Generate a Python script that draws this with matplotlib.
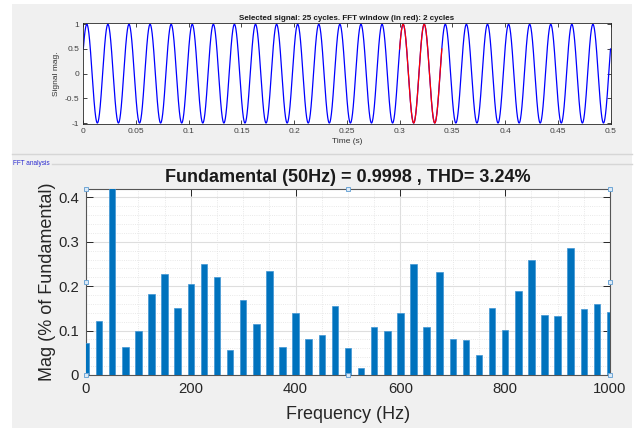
import numpy as np
import matplotlib
matplotlib.use("Agg")
import matplotlib.pyplot as plt
from matplotlib.lines import Line2D
from matplotlib.patches import Rectangle

plt.rcParams['font.family'] = ['Liberation Sans', 'DejaVu Sans']

# --- selected signal (top panel) ---
signal_freq = 50.0        # Hz
signal_amp = 1.0
signal_phase_deg = 30.0
signal_t_end = 0.5        # s (25 cycles)
fft_win_start = 0.30      # s
fft_win_end = 0.34        # s (2 cycles)
time_ticks = [0, 0.05, 0.1, 0.15, 0.2, 0.25, 0.3, 0.35, 0.4, 0.45, 0.5]
time_tick_labels = ['0', '0.05', '0.1', '0.15', '0.2', '0.25', '0.3', '0.35', '0.4', '0.45', '0.5']
mag_ticks = [-1, -0.5, 0, 0.5, 1]
mag_tick_labels = ['-1', '-0.5', '0', '0.5', '1']

# --- FFT spectrum (bottom panel) ---
freqs = [0, 25, 50, 75, 100, 125, 150, 175, 200, 225, 250, 275, 300, 325, 350,
         375, 400, 425, 450, 475, 500, 525, 550, 575, 600, 625, 650, 675, 700,
         725, 750, 775, 800, 825, 850, 875, 900, 925, 950, 975, 1000]
mags = [0.073, 0.121, 100.0, 0.062, 0.098, 0.183, 0.228, 0.151, 0.206, 0.249,
        0.220, 0.056, 0.170, 0.115, 0.235, 0.064, 0.139, 0.081, 0.089, 0.156,
        0.060, 0.015, 0.108, 0.100, 0.140, 0.250, 0.108, 0.233, 0.080, 0.079,
        0.046, 0.151, 0.101, 0.189, 0.259, 0.135, 0.133, 0.287, 0.148, 0.161,
        0.141]
freq_ticks = [0, 200, 400, 600, 800, 1000]
pct_ticks = [0, 0.1, 0.2, 0.3, 0.4]
pct_tick_labels = ['0', '0.1', '0.2', '0.3', '0.4']

W, H = 636, 428
fig = plt.figure(figsize=(W / 100, H / 100), dpi=100)
fig.patch.set_facecolor('white')

def fx(px):
    return px / W

def fy(py):
    return 1 - py / H

# gray panel background
fig.patches.append(Rectangle((fx(12), 0), fx(620), fy(4), transform=fig.transFigure,
                             facecolor='#f0f0f0', edgecolor='none', zorder=-10))
fig.lines.append(Line2D([fx(12), fx(632)], [fy(153.5), fy(153.5)], transform=fig.transFigure,
                        color='#d6d6d6', lw=1))
fig.lines.append(Line2D([fx(52), fx(632)], [fy(163.5), fy(163.5)], transform=fig.transFigure,
                        color='#d6d6d6', lw=1))
fig.text(fx(13), fy(163.5), 'FFT analysis', fontsize=4.7, color='#2a2ad0', va='center', ha='left')

# ---------------- top: time signal ----------------
ax1 = fig.add_axes([fx(83.3), fy(124), fx(610.5 - 83.3), fy(23.3) - fy(124)])
t = np.linspace(0, signal_t_end, 5001)
sig = signal_amp * np.sin(2 * np.pi * signal_freq * t + np.deg2rad(signal_phase_deg))
ax1.plot(t, sig, color='#0000ff', lw=0.9)
win = (t >= fft_win_start) & (t <= fft_win_end)
ax1.plot(t[win], sig[win], color='#ff0000', lw=0.9)
ax1.set_xlim(0, signal_t_end)
ax1.set_ylim(-1.02, 1.02)
ax1.set_xticks(time_ticks)
ax1.set_xticklabels(time_tick_labels)
ax1.set_yticks(mag_ticks)
ax1.set_yticklabels(mag_tick_labels)
ax1.tick_params(direction='in', length=3, width=0.6, labelsize=6, colors='#262626',
                labelcolor='#404040', top=True, right=True, pad=3)
for s in ax1.spines.values():
    s.set_color('#262626')
    s.set_linewidth(0.6)
ax1.set_title('Selected signal: 25 cycles. FFT window (in red): 2 cycles',
              fontsize=5.8, fontweight='bold', pad=2.5, color='#1a1a1a')
ax1.set_xlabel('Time (s)', fontsize=6, color='#333333', labelpad=2)
ax1.set_ylabel('Signal mag.', fontsize=6, color='#333333', labelpad=3)

# ---------------- bottom: FFT spectrum ----------------
ax2 = fig.add_axes([fx(86), fy(375), fx(610 - 86), fy(189) - fy(375)])
ax2.bar(freqs, mags, width=12.5, color='#0072bd', edgecolor='#3f95d4', linewidth=0.5, zorder=3)
ax2.set_xlim(0, 1000)
ax2.set_ylim(0, 0.419)
ax2.set_xticks(freq_ticks)
ax2.set_yticks(pct_ticks)
ax2.set_yticklabels(pct_tick_labels)
ax2.set_xticks(np.arange(0, 1001, 50), minor=True)
ax2.set_yticks(np.arange(0, 0.42, 0.02), minor=True)
ax2.grid(True, which='major', color='#dedede', lw=0.8, zorder=0)
ax2.grid(True, which='minor', color='#e2e2e2', lw=0.6, ls=':', zorder=0)
ax2.set_axisbelow(True)
ax2.tick_params(which='major', direction='in', length=5, width=0.7, labelsize=10.7,
                colors='#262626', labelcolor='#262626', top=True, right=True, pad=5)
ax2.tick_params(which='minor', length=0)
for s in ax2.spines.values():
    s.set_color('#555555')
    s.set_linewidth(0.8)
ax2.set_title('Fundamental (50Hz) = 0.9998 , THD= 3.24%', fontsize=13,
              fontweight='bold', pad=5, color='#1a1a1a')
ax2.set_xlabel('Frequency (Hz)', fontsize=13, color='#262626', labelpad=7)
ax2.set_ylabel('Mag (% of Fundamental)', fontsize=13, color='#262626', labelpad=2)

# selection handles on the bottom axes
hx = [0, 0, 0, 0.5, 0.5, 1, 1, 1]
hy = [0, 0.5, 1, 0, 1, 0, 0.5, 1]
ax2.plot(hx, hy, ls='none', marker='s', ms=3.2, mfc='#dbe9f6', mec='#6fa6d6', mew=0.7,
         transform=ax2.transAxes, clip_on=False, zorder=5)

fig.savefig('out.png', dpi=100, facecolor=fig.get_facecolor())
